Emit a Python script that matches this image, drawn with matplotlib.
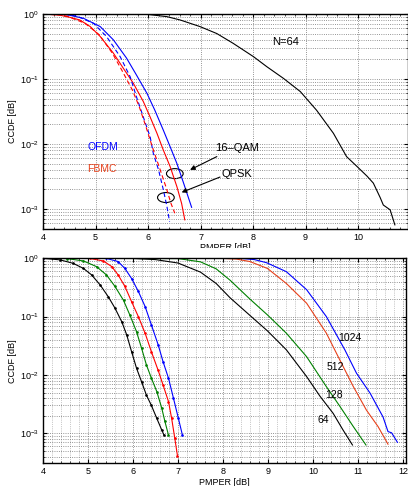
import numpy as np
import matplotlib
matplotlib.use("Agg")
import matplotlib.pyplot as plt
from matplotlib.patches import Ellipse
from matplotlib.ticker import LogLocator, MultipleLocator, NullFormatter
from matplotlib.transforms import ScaledTranslation, Bbox, TransformedBbox

plt.rcParams['font.family'] = ['Liberation Sans', 'DejaVu Sans']
plt.rcParams['mathtext.fontset'] = 'custom'
plt.rcParams['mathtext.rm'] = 'Liberation Sans'
plt.rcParams['mathtext.it'] = 'Liberation Sans:italic'
plt.rcParams['mathtext.bf'] = 'Liberation Sans:bold'

# ---------------- top panel data ----------------
top_black_x = [4.0, 5.5, 6.0, 6.36, 6.61, 6.99, 7.31, 7.62, 8.01, 8.26, 8.58, 8.90, 9.21, 9.53,
               9.78, 9.98, 10.17, 10.29, 10.42, 10.48, 10.61, 10.70]
top_black_y = [1.0, 1.0, 0.985, 0.91, 0.81, 0.64, 0.50, 0.354, 0.22, 0.155, 0.102, 0.064, 0.033,
               0.0146, 0.0064, 0.0045, 0.0032, 0.0025, 0.0015, 0.00115, 0.00097, 0.00057]

ofdm16_x = [4.0, 4.3, 4.45, 4.77, 5.09, 5.34, 5.59, 5.78, 5.98, 6.13, 6.29, 6.42, 6.55, 6.67, 6.83]
ofdm16_y = [1.0, 0.995, 0.98, 0.86, 0.64, 0.40, 0.21, 0.115, 0.06, 0.033, 0.0164, 0.0091, 0.005,
            0.0026, 0.00106]

fbmc16_x = [4.0, 4.32, 4.51, 4.70, 4.90, 5.09, 5.34, 5.53, 5.72, 5.91, 6.04, 6.17, 6.29, 6.42,
            6.55, 6.64, 6.70]
fbmc16_y = [1.0, 0.96, 0.89, 0.81, 0.64, 0.45, 0.25, 0.146, 0.086, 0.045, 0.026, 0.0146, 0.0081,
            0.0045, 0.0022, 0.00121, 0.00068]

ofdmq_x = [4.0, 4.4, 4.64, 4.96, 5.21, 5.47, 5.66, 5.78, 5.91, 6.04, 6.10, 6.20, 6.29, 6.36, 6.41]
ofdmq_y = [1.0, 0.99, 0.93, 0.72, 0.45, 0.22, 0.108, 0.053, 0.026, 0.0129, 0.0072, 0.004, 0.002,
           0.00109, 0.00064]

fbmcq_x = [4.0, 4.3, 4.45, 4.80, 5.07, 5.32, 5.50, 5.70, 5.83, 5.96, 6.08, 6.21, 6.34, 6.44, 6.51]
fbmcq_y = [1.0, 0.97, 0.93, 0.72, 0.48, 0.25, 0.137, 0.068, 0.038, 0.0185, 0.0091, 0.0045, 0.0022,
           0.0012, 0.00086]

# ---------------- bottom panel data ----------------
l_black_x = [4.0, 4.38, 4.67, 4.90, 5.08, 5.27, 5.45, 5.60, 5.75, 5.86, 5.97, 6.08, 6.19, 6.30,
             6.41, 6.53, 6.64, 6.69]
l_black_y = [1.0, 0.94, 0.82, 0.67, 0.52, 0.35, 0.22, 0.14, 0.082, 0.049, 0.025, 0.013, 0.0077,
             0.0045, 0.0030, 0.0018, 0.00114, 0.00093]
l_green_x = [4.0, 4.53, 4.90, 5.19, 5.41, 5.60, 5.79, 5.93, 6.08, 6.19, 6.30, 6.41, 6.53, 6.64,
             6.71, 6.79]
l_green_y = [1.0, 0.99, 0.90, 0.72, 0.52, 0.33, 0.19, 0.107, 0.055, 0.029, 0.0148, 0.0088, 0.0052,
             0.0027, 0.0016, 0.00093]
l_red_x = [4.0, 5.04, 5.34, 5.53, 5.67, 5.82, 5.97, 6.12, 6.27, 6.41, 6.56, 6.67, 6.79, 6.86,
           6.93, 6.99]
l_red_y = [1.0, 0.995, 0.90, 0.72, 0.52, 0.33, 0.18, 0.10, 0.052, 0.025, 0.012, 0.0067, 0.0035,
           0.0018, 0.00082, 0.00041]
l_blue_x = [4.0, 5.41, 5.67, 5.82, 5.97, 6.12, 6.27, 6.41, 6.56, 6.67, 6.79, 6.90, 7.01, 7.10]
l_blue_y = [1.0, 0.995, 0.88, 0.67, 0.45, 0.27, 0.149, 0.072, 0.033, 0.0168, 0.0088, 0.004,
            0.0018, 0.00093]

r64_x = [4.0, 6.0, 6.5, 7.0, 7.5, 7.85, 8.16, 8.6, 8.99, 9.41, 9.86, 10.16, 10.45, 10.67, 10.88]
r64_y = [1.0, 0.995, 0.95, 0.83, 0.58, 0.37, 0.21, 0.105, 0.057, 0.027, 0.0094, 0.0043, 0.0022,
         0.00114, 0.00063]
r128_x = [4.0, 7.0, 7.5, 7.85, 8.16, 8.6, 8.99, 9.41, 9.86, 10.3, 10.6, 10.9, 11.18]
r128_y = [1.0, 0.99, 0.87, 0.66, 0.42, 0.2, 0.107, 0.052, 0.0206, 0.0063, 0.0029, 0.0013, 0.00063]
r512_x = [4.0, 8.0, 8.3, 8.6, 8.99, 9.41, 9.86, 10.3, 10.6, 10.9, 11.19, 11.45, 11.67]
r512_y = [1.0, 0.995, 0.97, 0.88, 0.67, 0.37, 0.17, 0.052, 0.018, 0.0063, 0.0025, 0.0013, 0.00065]
r1024_x = [4.0, 8.4, 8.7, 8.97, 9.41, 9.86, 10.3, 10.71, 10.97, 11.27, 11.56, 11.67, 11.75, 11.88]
r1024_y = [1.0, 0.995, 0.95, 0.84, 0.59, 0.29, 0.1, 0.027, 0.0107, 0.0049, 0.0019, 0.00107,
           0.00102, 0.0007]

n_labels = ['1024', '512', '128', '64']
n_label_x = [10.82, 10.49, 10.47, 10.24]
n_label_y = [0.0425, 0.0139, 0.0045, 0.0017]

BLUE = (0, 0, 1)
RED = (1, 0, 0)
ORANGE = (0.9, 0.25, 0.1)
GREEN = (0, 0.5, 0)

W, H = 408, 486
fig = plt.figure(figsize=(W / 100, H / 100), dpi=100)

def px_rect(l, t, r, b):
    return [l / W, 1 - b / H, (r - l) / W, (b - t) / H]

def style(ax, xminor):
    ax.set_yscale('log')
    ax.yaxis.set_major_locator(LogLocator(base=10, numticks=10))
    ax.yaxis.set_minor_locator(LogLocator(base=10, subs=np.arange(2, 10), numticks=20))
    ax.yaxis.set_minor_formatter(NullFormatter())
    ax.xaxis.set_major_locator(MultipleLocator(1))
    ax.xaxis.set_minor_locator(MultipleLocator(0.2))
    ax.tick_params(which='both', direction='in', top=True, right=True, labelsize=6.5, pad=3)
    ax.tick_params(which='major', length=3, width=0.8)
    ax.tick_params(which='minor', length=1.5, width=0.5)
    ax.grid(True, which='major', axis='both', linestyle=':', color='0.45', linewidth=0.6)
    ax.grid(True, which='minor', axis='y', linestyle=':', color='0.45', linewidth=0.6)
    if xminor:
        ax.grid(True, which='minor', axis='x', linestyle=':', color='0.6', linewidth=0.5)
    for s in ax.spines.values():
        s.set_linewidth(1.0)
    ax.set_ylabel('CCDF [dB]', fontsize=6.5, labelpad=2)

# ---------------- top panel ----------------
ax1 = fig.add_axes(px_rect(43, 14, 408, 229))
style(ax1, False)
lw = 0.8
ax1.plot(top_black_x, top_black_y, color='k', lw=lw)
ax1.plot(ofdm16_x, ofdm16_y, color=BLUE, lw=lw)
ax1.plot(fbmc16_x, fbmc16_y, color=RED, lw=lw)
ax1.plot(ofdmq_x, ofdmq_y, color=BLUE, lw=lw, linestyle=(0, (4, 2.5)))
ax1.plot(fbmcq_x, fbmcq_y, color=RED, lw=lw, linestyle=(0, (4, 2.5)))
ax1.set_xlim(4, 10.95)
ax1.set_ylim(4.92e-4, 1)

ax1.text(8.61, 0.375, 'N=64', fontsize=8, ha='center', va='center')
ax1.text(5.14, 0.0091, 'OFDM', fontsize=7.5, color=BLUE, ha='center', va='center')
ax1.text(5.12, 0.0041, 'FBMC', fontsize=7.5, color=ORANGE, ha='center', va='center')
ax1.text(7.69, 0.0088, '16–QAM', fontsize=8, ha='center', va='center')
ax1.text(7.69, 0.0035, 'QPSK', fontsize=8, ha='center', va='center')

for (xc, yc) in [(6.51, 0.0035), (6.34, 0.0015)]:
    tr = fig.dpi_scale_trans + ScaledTranslation(xc, yc, ax1.transData)
    ax1.add_patch(Ellipse((0, 0), 0.167, 0.10, transform=tr, fill=False,
                          edgecolor='k', lw=0.8, clip_on=False))

arrowp = dict(arrowstyle='-|>', color='k', lw=0.8, mutation_scale=7, shrinkA=0, shrinkB=0)
ax1.annotate('', xy=(6.80, 0.0040), xytext=(7.31, 0.0064), arrowprops=arrowp)
ax1.annotate('', xy=(6.64, 0.0018), xytext=(7.37, 0.0031), arrowprops=arrowp)

# top x label, partly hidden by lower panel
t = fig.text((43 + 408) / 2 / W, 1 - 243.5 / H, 'PMPER [dB]', fontsize=6.5,
             ha='center', va='top')
t.set_clip_box(TransformedBbox(Bbox([[0, 1 - 247.5 / H], [1, 1]]), fig.transFigure))
t.set_clip_on(True)

# ---------------- bottom panel ----------------
ax2 = fig.add_axes(px_rect(43, 258.3, 406, 463.3))
style(ax2, True)
ms = 1.8
ax2.plot(l_black_x, l_black_y, color='k', lw=lw, marker='.', ms=ms)
ax2.plot(l_green_x, l_green_y, color=GREEN, lw=lw, marker='.', ms=ms)
ax2.plot(l_red_x, l_red_y, color=RED, lw=lw, marker='.', ms=ms)
ax2.plot(l_blue_x, l_blue_y, color=BLUE, lw=lw, marker='.', ms=ms)
ax2.plot(r64_x, r64_y, color='k', lw=lw)
ax2.plot(r128_x, r128_y, color=GREEN, lw=lw)
ax2.plot(r512_x, r512_y, color=ORANGE, lw=lw)
ax2.plot(r1024_x, r1024_y, color=BLUE, lw=lw)
for lab, x, y in zip(n_labels, n_label_x, n_label_y):
    ax2.text(x, y, lab, fontsize=7.5, ha='center', va='center')
ax2.set_xlim(4, 12.07)
ax2.set_ylim(3.06e-4, 1)
ax2.set_xlabel('PMPER [dB]', fontsize=6.5, labelpad=1)

fig.savefig('out.png', dpi=100)
